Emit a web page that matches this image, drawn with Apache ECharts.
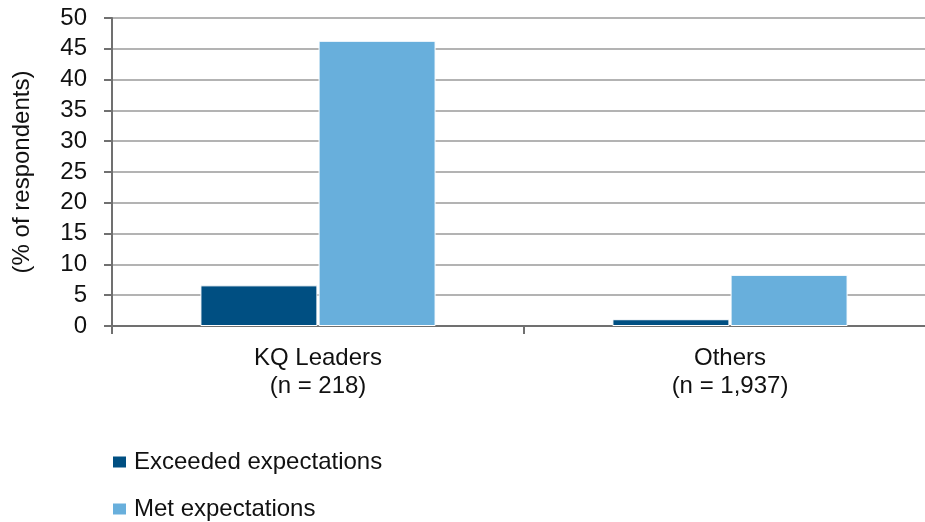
<!DOCTYPE html>
<html>
<head>
<meta charset="utf-8">
<script src="https://cdn.jsdelivr.net/npm/echarts@6/dist/echarts.min.js"></script>
<style>
html,body{margin:0;padding:0;background:#fff;}
#chart{width:925px;height:522px;}
</style>
</head>
<body>
<div id="chart"></div>
<script>
var categories = ['KQ Leaders\n(n = 218)', 'Others\n(n = 1,937)'];
var seriesNames = ['Exceeded expectations', 'Met expectations'];
var exceeded = [6.6, 1.1];
var met = [46.3, 8.3];
var yTicks = [0, 5, 10, 15, 20, 25, 30, 35, 40, 45, 50];
var yAxisTitle = '(% of respondents)';

var FONT = 'Liberation Sans';
var legendText = {fontFamily: FONT, fontSize: 24, color: '#111', padding: [0, 0, 0, 2]};
var chart = echarts.init(document.getElementById('chart'), null, {renderer: 'canvas'});
chart.setOption({
  animation: false,
  backgroundColor: '#ffffff',
  textStyle: {fontFamily: FONT},
  grid: {left: 112, top: 18, width: 824, height: 308, containLabel: false, outerBoundsMode: 'none'},
  legend: [
    {
      left: 106, top: 445,
      itemWidth: 15, itemHeight: 13, icon: 'rect',
      textStyle: legendText,
      data: [seriesNames[0]]
    },
    {
      left: 106, top: 492,
      itemWidth: 15, itemHeight: 13, icon: 'rect',
      textStyle: legendText,
      data: [seriesNames[1]]
    }
  ],
  xAxis: {
    type: 'category',
    data: categories,
    axisLine: {lineStyle: {color: '#707070', width: 2}},
    axisTick: {show: true, length: 8, lineStyle: {color: '#707070', width: 2}},
    axisLabel: {fontFamily: FONT, fontSize: 24, color: '#111', margin: 18, lineHeight: 28}
  },
  yAxis: {
    type: 'value',
    min: yTicks[0],
    max: yTicks[yTicks.length - 1],
    interval: 5,
    name: yAxisTitle,
    nameLocation: 'middle',
    nameGap: 78,
    nameRotate: 90,
    nameTextStyle: {fontFamily: FONT, fontSize: 24, color: '#111'},
    axisLine: {show: true, lineStyle: {color: '#707070', width: 2}},
    axisTick: {show: true, length: 8, lineStyle: {color: '#707070', width: 2}},
    axisLabel: {fontFamily: FONT, fontSize: 24, color: '#111', margin: 25},
    splitLine: {show: true, lineStyle: {color: '#b3b3b3', width: 2}}
  },
  series: [
    {
      name: seriesNames[0],
      type: 'bar',
      data: exceeded,
      barWidth: 117,
      barGap: '1%',
      itemStyle: {color: '#004f82', borderColor: '#ffffff', borderWidth: 1}
    },
    {
      name: seriesNames[1],
      type: 'bar',
      data: met,
      barWidth: 117,
      itemStyle: {color: '#68afdc', borderColor: '#ffffff', borderWidth: 1}
    }
  ]
});
</script>
</body>
</html>
